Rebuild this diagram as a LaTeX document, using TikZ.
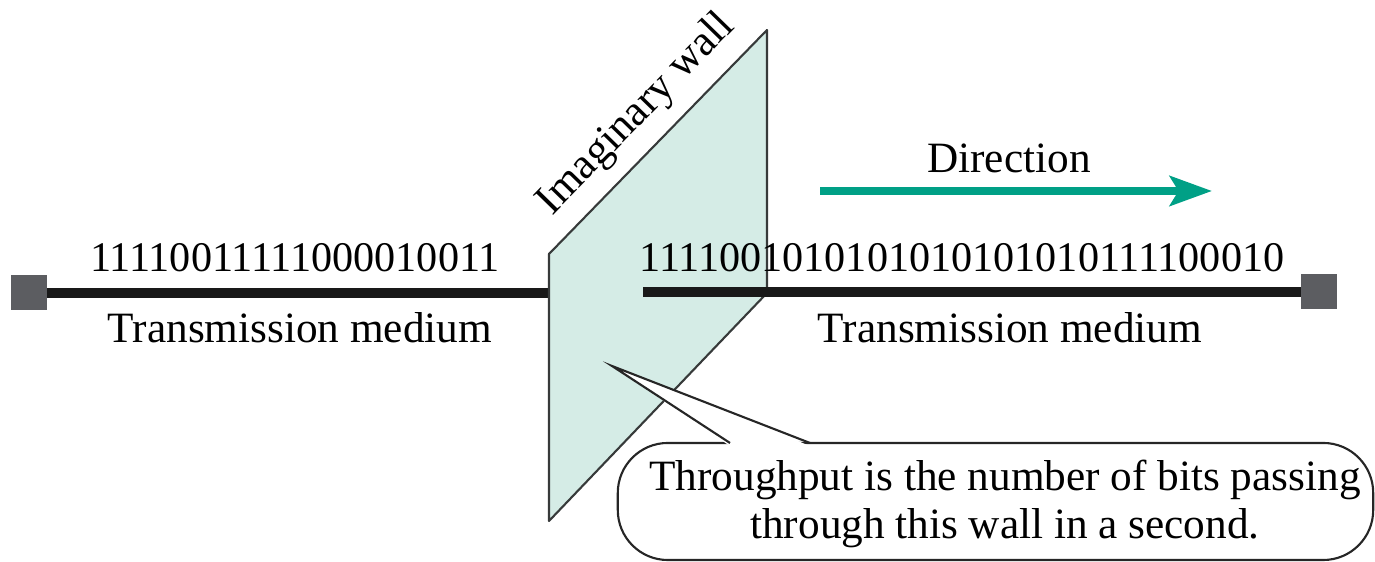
\documentclass[tikz,border=0pt]{standalone}
\usepackage{fontspec}
\setmainfont{Liberation Serif}
\usetikzlibrary{arrows.meta, positioning, calc}

\definecolor{wallfill}{RGB}{213,236,230}
\definecolor{wallline}{RGB}{55,58,58}
\definecolor{portgray}{RGB}{92,93,97}
\definecolor{dirteal}{RGB}{0,160,134}

\begin{document}
\begin{tikzpicture}[x=0.01cm, y=-0.01cm,
  port/.style={rectangle, fill=portgray, minimum size=0.35cm, inner sep=0pt},
  medium/.style={line width=2.85pt, draw=black!90},
  bits/.style={font=\fontsize{12}{14}\selectfont, inner sep=0pt},
  lbl/.style={font=\fontsize{12.3}{14}\selectfont, inner sep=0pt},
  wall/.style={fill=wallfill, draw=wallline, line width=0.6pt, line join=round},
  dirarr/.style={-{Stealth[length=12pt, width=8.5pt, inset=2.5pt]}, draw=dirteal, line width=2.2pt},
  note/.style={rectangle, rounded corners=0.5cm, draw=black!85, fill=white, line width=0.6pt,
               minimum width=7.55cm, minimum height=1.17cm},
  notetxt/.style={align=center, inner sep=0pt, font=\fontsize{12.3}{13.4}\selectfont}]

  \useasboundingbox (0,0) rectangle (1375,562);

  % end points of the medium
  \node[port] (lport) at (29,293) {};
  \node[port] (rport) at (1319,292) {};

  % the wall
  \coordinate (wtl) at (549,254);
  \coordinate (wtr) at (767,30);
  \coordinate (wbr) at (767,293);
  \coordinate (wbl) at (549,521);
  \coordinate (rstart) at (643,292);

  \draw[medium] (lport.east) -- (lport.east -| wtl);
  \draw[wall] (wtl) -- (wtr) -- (wbr) -- (wbl) -- cycle;
  \draw[medium] (rstart) -- (rport.west);

  \path (wtl) -- (wtr) node[pos=0.515, sloped, above=4pt, lbl] (walllbl) {Imaginary wall};

  \node[bits] (lbits) at (295,258) {11110011111000010011};
  \node[bits] (rbits) at (962,258) {1111001010101010101010111100010};
  \node[lbl] (lmed) at (300,328) {Transmission medium};
  \node[lbl] (rmed) at (1010,328) {Transmission medium};

  % direction of flow
  \node[lbl] (dir) at (1009,158) {Direction};
  \coordinate (dira) at (820,191);
  \coordinate (dirb) at (1212,191);
  \draw[dirarr] (dira) -- (dirb);

  % callout
  \node[note] (thr) at (995.5,501.5) {};
  \node[notetxt] (thrtxt) at (1005,504) {Throughput is the number of bits passing\\through this wall in a second.};
  \coordinate (tip) at (612,366);
  \coordinate (pl) at (730,443);
  \coordinate (pr) at (810,443);
  \fill[white] ($(pl)+(0,3)$) -- (tip) -- ($(pr)+(0,3)$) -- cycle;
  \draw[black!85, line width=0.6pt, line join=miter] (pl) -- (tip) -- (pr);

\end{tikzpicture}
\end{document}
